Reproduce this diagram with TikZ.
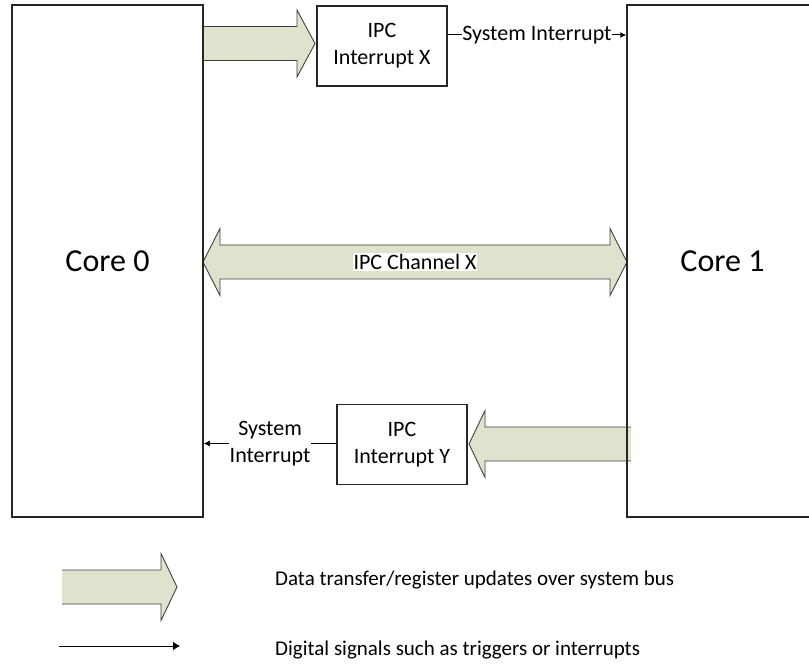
\documentclass[tikz,border=0pt]{standalone}
\usepackage{fontspec}
\setmainfont{Carlito}
\usetikzlibrary{arrows.meta,calc}
\definecolor{busfill}{RGB}{221,227,205}
\definecolor{busedge}{RGB}{64,64,64}
\definecolor{boxedge}{RGB}{38,38,38}
\newcommand\busarrow[3]{% #1 tail, #2 tip, #3 signed head length
  \fill[busfill] let \p1=(#1),\p2=(#2) in
    (\x1,\y1+17pt) -- ({\x2-(#3pt)},\y1+17pt) -- ({\x2-(#3pt)},\y1+33.5pt) -- (\x2,\y1)
    -- ({\x2-(#3pt)},\y1-33.5pt) -- ({\x2-(#3pt)},\y1-17pt) -- (\x1,\y1-17pt) -- cycle;
  \draw[busline] let \p1=(#1),\p2=(#2) in
    (\x1,\y1+17pt) -- ({\x2-(#3pt)},\y1+17pt) -- ({\x2-(#3pt)},\y1+33.5pt) -- (\x2,\y1)
    -- ({\x2-(#3pt)},\y1-33.5pt) -- ({\x2-(#3pt)},\y1-17pt) -- (\x1,\y1-17pt);
}
\begin{document}
\begin{tikzpicture}[x=1pt,y=-1pt,
  busline/.style={draw=busedge,line width=0.9pt,line join=miter},
  corebox/.style={draw=boxedge,line width=1.5pt,rectangle,minimum width=191pt,minimum height=512pt,inner sep=0pt,font=\fontsize{32}{38}\selectfont},
  ipcbox/.style={draw=boxedge,line width=1.2pt,rectangle,minimum width=130pt,minimum height=80pt,inner sep=0pt,align=center,font=\fontsize{22}{27}\selectfont},
  sig/.style={draw=black,line width=1pt,-{Latex[length=6pt,width=6pt]}},
  lbl/.style={fill=white,inner sep=1pt,align=center,font=\fontsize{22}{27}\selectfont},
  legtext/.style={anchor=base west,inner sep=0pt,font=\fontsize{21}{26}\selectfont}]
\useasboundingbox (0,0) rectangle (809,668);

% fat arrows (drawn first)
\coordinate (a1tail) at (203,43.5);
\coordinate (a1tip) at (315,43.5);
\busarrow{a1tail}{a1tip}{18}
\coordinate (a2tail) at (631,444);
\coordinate (a2tip) at (469,444);
\busarrow{a2tail}{a2tip}{-16}

% double arrow
\coordinate (dl) at (203,262);
\coordinate (dr) at (627,262);
\fill[busfill] let \p1=(dl),\p2=(dr) in
  (\x1,\y1) -- (\x1+17pt,\y1+33.5pt) -- (\x1+17pt,\y1+17pt) -- (\x2-17pt,\y1+17pt) -- (\x2-17pt,\y1+33.5pt)
  -- (\x2,\y1) -- (\x2-17pt,\y1-33.5pt) -- (\x2-17pt,\y1-17pt) -- (\x1+17pt,\y1-17pt) -- (\x1+17pt,\y1-33.5pt) -- cycle;
\draw[busline] let \p1=(dl),\p2=(dr) in
  (\x1,\y1) -- (\x1+17pt,\y1+33.5pt) -- (\x1+17pt,\y1+17pt) -- (\x2-17pt,\y1+17pt) -- (\x2-17pt,\y1+33.5pt)
  -- (\x2,\y1) -- (\x2-17pt,\y1-33.5pt) -- (\x2-17pt,\y1-17pt) -- (\x1+17pt,\y1-17pt) -- (\x1+17pt,\y1-33.5pt) -- cycle;
\node[lbl] (chan) at ($(dl)!0.5!(dr)$) {IPC Channel X};

% cores
\node[corebox] (core0) at (107.5,261) {Core 0};
\node[corebox] (core1) at (722.5,261) {Core 1};

% IPC boxes
\node[ipcbox] (ipcx) at (382,46) {IPC\\Interrupt X};
\node[ipcbox] (ipcy) at (402,444.5) {IPC\\Interrupt Y};

% signals
\draw[sig] ([yshift=11pt]ipcx.east) -- node[lbl,inner sep=0pt] (sx) {System Interrupt} ([yshift=11pt]ipcx.east -| core1.west);
\draw[sig] ([yshift=1pt]ipcy.west) -- node[lbl] (sy) {System\\Interrupt} ([yshift=1pt]ipcy.west -| core0.east);

% legend
\coordinate (l1tail) at (62,587);
\coordinate (l1tip) at (177,587);
\busarrow{l1tail}{l1tip}{16}
\node[legtext] (t1) at (275,585) {Data transfer/register updates over system bus};
\coordinate (l2a) at (59,646);
\coordinate (l2b) at (180,646);
\draw[draw=black,line width=1pt,-{Latex[length=7pt,width=9pt]}] (l2a) -- (l2b);
\node[legtext] (t2) at (275,655) {Digital signals such as triggers or interrupts};
\end{tikzpicture}
\end{document}
